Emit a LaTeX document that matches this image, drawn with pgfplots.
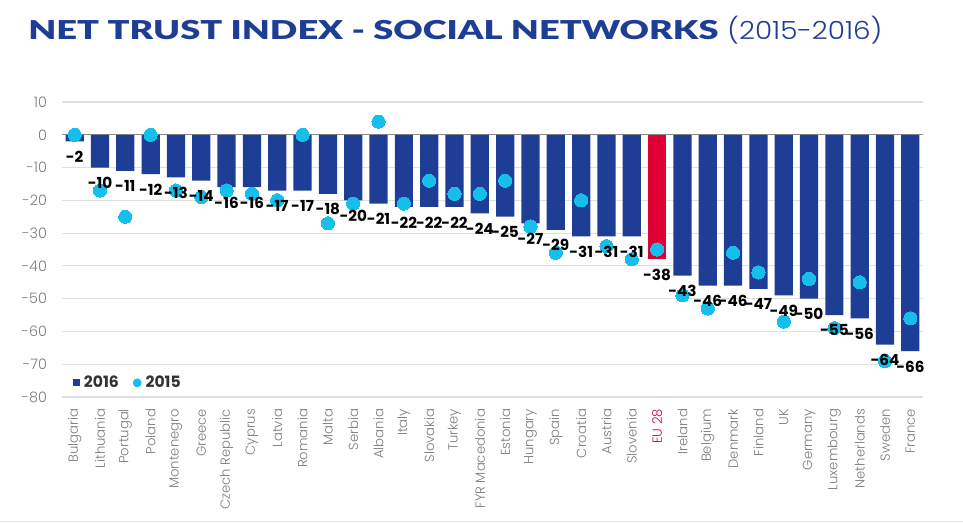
\documentclass[border=0pt]{standalone}
\usepackage{fontspec}
\setmainfont{Poppins}
\newfontfamily\popl{Poppins Light}
\newfontfamily\latoblack{Lato Black}
\usepackage{graphicx}
\usepackage{pgfplots}
\usepackage{pgfplotstable}
\pgfplotsset{compat=1.18}
\definecolor{barblue}{RGB}{30,62,150}
\definecolor{eured}{RGB}{222,0,52}
\definecolor{dotcyan}{RGB}{22,190,235}
\definecolor{ticgray}{RGB}{125,125,125}
\definecolor{gridgray}{RGB}{224,224,224}
\definecolor{legtext}{RGB}{50,50,50}

\pgfplotstableread{
x y16 y15
0 -2 0
1 -10 -17
2 -11 -25
3 -12 0
4 -13 -17
5 -14 -19
6 -16 -17
7 -16 -18
8 -17 -20
9 -17 0
10 -18 -27
11 -20 -21
12 -21 4
13 -22 -21
14 -22 -14
15 -22 -18
16 -24 -18
17 -25 -14
18 -27 -28
19 -29 -36
20 -31 -20
21 -31 -34
22 -31 -38
23 -38 -35
24 -43 -49
25 -46 -53
26 -46 -36
27 -47 -42
28 -49 -57
29 -50 -44
30 -55 -59
31 -56 -45
32 -64 -69
33 -66 -56
}\data

\begin{document}
\begin{tikzpicture}
\useasboundingbox (0,0) rectangle (481.5pt,261.5pt);
\node[anchor=base west, inner sep=0pt, text=barblue] at (14pt,241.85pt)
  {\resizebox{345pt}{\height}{\latoblack\fontsize{13}{15}\selectfont NET TRUST INDEX - SOCIAL NETWORKS}\hspace{4.5pt}\resizebox{77.5pt}{\height}{\popl\fontsize{12.5}{15}\selectfont (2015-2016)}};
\draw[gray!18, line width=0.7pt] (0,0.7pt) -- (481.5pt,0.7pt);
\begin{axis}[
  at={(31pt,63pt)}, anchor=south west,
  scale only axis, width=430.5pt, height=147.5pt,
  xmin=-0.5, xmax=33.5, ymin=-80, ymax=10,
  ytick={-80,-70,...,10},
  yticklabels={-80,-70,-60,-50,-40,-30,-20,-10,0,10},
  xtick={0,...,33},
  xticklabels={Bulgaria,Lithuania,Portugal,Poland,Montenegro,Greece,Czech Republic,Cyprus,Latvia,Romania,Malta,Serbia,Albania,Italy,Slovakia,Turkey,FYR Macedonia,Estonia,Hungary,Spain,Croatia,Austria,Slovenia,{\textcolor{eured}{EU 28}},Ireland,Belgium,Denmark,Finland,UK,Germany,Luxembourg,Netherlands,Sweden,France},
  x tick label style={rotate=90, anchor=east, font=\popl\fontsize{6.6}{8}\selectfont, text=ticgray},
  y tick label style={font=\popl\fontsize{7.2}{8}\selectfont, text=ticgray},
  xticklabel shift=2.5pt, yticklabel shift=4pt,
  /pgf/number format/assume math mode=true,
  major tick length=0pt,
  axis line style={draw=none},
  ymajorgrids, grid style={gridgray, line width=0.6pt},
  extra y ticks={0}, extra y tick labels={},
  extra y tick style={grid style={ticgray!90, line width=0.6pt}},
  legend style={draw=none, fill=none, legend columns=2, at={(0.012,0.048)}, anchor=west,
    font=\bfseries\fontsize{7.8}{9}\selectfont, text=legtext,
    /tikz/every even column/.append style={column sep=5pt},
    legend cell align=left, inner sep=0pt},
  clip=false,
]
\addplot[ybar, bar width=0.72, bar shift=0pt, fill=barblue, draw=none,
  skip coords between index={23}{24},
  legend image code/.code={\fill[barblue] (0pt,-1.8pt) rectangle (3.6pt,1.8pt);}]
  table[x=x, y=y16] {\data};
\addlegendentry{2016}
\addplot[ybar, bar width=0.72, bar shift=0pt, fill=eured, draw=none, forget plot]
  coordinates {(23,-38)};
\addplot[dotcyan, only marks, mark=*, mark size=3.3pt, mark options={draw=dotcyan, fill=dotcyan, line width=0pt},
  legend image code/.code={\fill[dotcyan] (2pt,0pt) circle (2pt);}]
  table[x=x, y=y15] {\data};
\addlegendentry{2015}
\addplot[only marks, mark=none, forget plot,
  point meta=explicit symbolic,
  nodes near coords,
  every node near coord/.append style={anchor=north, inner sep=1pt, yshift=-3.7pt,
    font=\bfseries\fontsize{7.6}{9}\selectfont, text=black}]
  table[x=x, y=y16, meta=y16] {\data};
\end{axis}
\end{tikzpicture}
\end{document}
